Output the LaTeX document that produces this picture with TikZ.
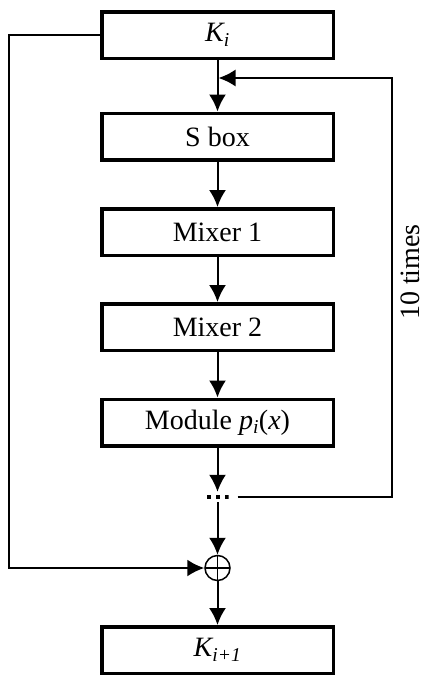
\documentclass[tikz,border=0pt]{standalone}
\usepackage{fontspec}
\setmainfont{Liberation Serif}
\usetikzlibrary{arrows.meta,calc}
\begin{document}
\begin{tikzpicture}[x=1pt,y=-1pt,
  blk/.style={draw,line width=3.5pt,minimum width=231.5pt,minimum height=46.5pt,inner sep=0pt,font=\fontsize{28}{32}\selectfont},
  conn/.style={line width=2pt},
  arr/.style={conn,-{Latex[length=17pt,width=17pt]}},
  dotsn/.style={minimum width=22pt,minimum height=4pt,inner sep=0pt,
    path picture={\foreach \dx in {-9,0,9}{\fill ($(path picture bounding box.center)+(\dx-2,-2)$) rectangle ++(4,4);}}},
  xorn/.style={draw,circle,line width=1.5pt,minimum size=25pt,inner sep=0pt,
    path picture={\draw[line width=1.5pt] (path picture bounding box.north) -- (path picture bounding box.south)
      (path picture bounding box.west) -- (path picture bounding box.east);}}
]
\useasboundingbox (0,0) rectangle (425,675);
\node[blk] (ki) at (217.5,35) {\itshape K\textsubscript{i}};
\node[blk] (sbox) at (217.5,136.5) {S box};
\node[blk] (m1) at (217.5,232) {Mixer 1};
\node[blk] (m2) at (217.5,327) {Mixer 2};
\node[blk] (mod) at (217.5,422.5) {Module \textit{p}\textsubscript{\textit{i}}(\textit{x})};
\node[dotsn] (dots) at (217.5,497) {};
\node[xorn] (xor) at (217.5,568) {};
\node[blk] (ko) at (217.5,650) {\itshape K\textsubscript{i+1}};
\node[font=\fontsize{28}{32}\selectfont,rotate=90] (times) at (410,272) {10 times};
\coordinate (L) at (9,35);
\coordinate (J) at (217.5,78);
\coordinate (R1) at (392,497);
\coordinate (R2) at (392,78);
\draw[arr] (ki) -- (sbox);
\draw[arr] (sbox) -- (m1);
\draw[arr] (m1) -- (m2);
\draw[arr] (m2) -- (mod);
\draw[arr,shorten >=3pt] (mod) -- (dots);
\draw[arr,shorten <=3pt] (dots) -- (xor);
\draw[arr] (xor) -- (ko);
\draw[arr] (ki.west) -- (L) |- (xor.west);
\draw[arr] ($(dots.east)+(9,0)$) -- (R1) -- (R2) -- ($(J)+(1,0)$);
\end{tikzpicture}
\end{document}
